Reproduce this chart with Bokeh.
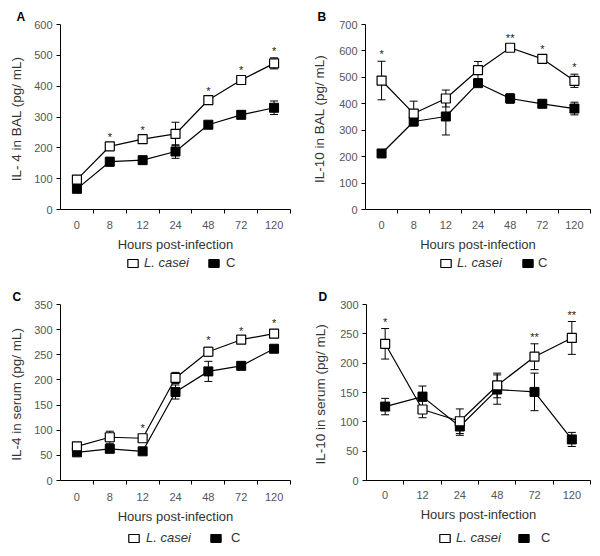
from bokeh.plotting import figure
from bokeh.models import (FixedTicker, Whisker, ColumnDataSource, Legend, LegendItem,
                          TeeHead, Range1d)
from bokeh.layouts import column, row
from bokeh.embed import file_html
from bokeh.resources import INLINE
from bokeh.core.properties import value

FONT = "Liberation Sans"

# ---- data -------------------------------------------------------------
hours_7 = ["0", "8", "12", "24", "48", "72", "120"]
hours_6 = ["0", "12", "24", "48", "72", "120"]
series_names = ["L. casei", "C"]

# A: IL-4 in BAL
a_lc = [97, 205, 228, 245, 355, 420, 474]
a_lc_err = [8, 6, 8, 38, 8, 10, 18]
a_c = [67, 155, 160, 188, 275, 307, 330]
a_c_err = [8, 14, 6, 22, 10, 6, 22]
a_stars = ["", "*", "*", "", "*", "*", "*"]

# B: IL-10 in BAL
b_lc = [488, 363, 420, 527, 612, 570, 487]
b_lc_err = [73, 47, 32, 33, 12, 10, 25]
b_c = [212, 333, 352, 478, 420, 400, 382]
b_c_err = [8, 8, 70, 10, 18, 6, 24]
b_stars = ["*", "", "", "", "**", "*", "*"]

# C: IL-4 in serum
c_lc = [68, 86, 84, 204, 256, 280, 292]
c_lc_err = [4, 12, 6, 11, 9, 4, 8]
c_c = [56, 63, 58, 176, 217, 228, 262]
c_c_err = [3, 4, 3, 14, 20, 4, 4]
c_stars = ["", "", "*", "", "*", "*", "*"]

# D: IL-10 in serum
d_lc = [233, 121, 101, 162, 211, 243]
d_lc_err = [26, 14, 21, 21, 22, 28]
d_c = [126, 143, 92, 155, 151, 70]
d_c_err = [14, 18, 15, 25, 32, 12]
d_stars = ["*", "", "", "", "**", "**"]

TICK_COLOR = "#555555"
LABEL_COLOR = "#333333"


def panel(cats, lc, lc_err, c, c_err, stars, ymax, ystep, ylabel, letter,
          height, borders, ylab_standoff, xlab_standoff, letter_offset):
    left, right, top, bottom = borders
    n = len(cats)
    xs = list(range(n))
    p = figure(width=300, height=height, x_range=Range1d(-0.5, n - 0.5),
               y_range=Range1d(0, ymax), output_backend="svg",
               toolbar_location=None, min_border_left=left,
               min_border_right=right, min_border_top=top,
               min_border_bottom=bottom)
    p.outline_line_color = None
    p.xgrid.visible = False
    p.ygrid.visible = False

    p.title.text = letter
    p.title.align = "left"
    p.title.offset = letter_offset
    p.title.standoff = 1
    p.title.text_font = FONT
    p.title.text_font_size = "12px"
    p.title.text_font_style = "bold"
    p.title.text_color = "black"

    # x axis: labels at centres, ticks at category boundaries
    xa = p.xaxis[0]
    xa.ticker = FixedTicker(ticks=xs, minor_ticks=[i + 0.5 for i in xs])
    xa.major_label_overrides = {i: lab for i, lab in enumerate(cats)}
    xa.major_tick_line_color = None
    xa.major_tick_out = 4
    xa.major_tick_in = 0
    xa.minor_tick_line_color = "black"
    xa.minor_tick_out = 4
    xa.minor_tick_in = 0
    xa.axis_line_color = "black"
    xa.major_label_text_font = FONT
    xa.major_label_text_font_size = "11px"
    xa.major_label_text_color = TICK_COLOR
    xa.major_label_standoff = xlab_standoff
    xa.axis_label = "Hours post-infection"
    xa.axis_label_text_font = FONT
    xa.axis_label_text_font_size = "13px"
    xa.axis_label_text_font_style = "normal"
    xa.axis_label_text_color = LABEL_COLOR
    xa.axis_label_standoff = 5

    ya = p.yaxis[0]
    ya.ticker = FixedTicker(ticks=list(range(0, ymax + 1, ystep)))
    ya.major_tick_out = 4
    ya.major_tick_in = 0
    ya.minor_tick_line_color = None
    ya.axis_line_color = "black"
    ya.major_label_text_font = FONT
    ya.major_label_text_font_size = "11px"
    ya.major_label_text_color = TICK_COLOR
    ya.major_label_standoff = 4
    ya.axis_label = ylabel
    ya.axis_label_text_font = FONT
    ya.axis_label_text_font_size = "13.5px"
    ya.axis_label_text_font_style = "normal"
    ya.axis_label_text_color = LABEL_COLOR
    ya.axis_label_standoff = ylab_standoff

    src_lc = ColumnDataSource(dict(x=xs, y=lc, upper=[v + e for v, e in zip(lc, lc_err)],
                                   lower=[v - e for v, e in zip(lc, lc_err)], star=stars))
    src_c = ColumnDataSource(dict(x=xs, y=c, upper=[v + e for v, e in zip(c, c_err)],
                                  lower=[v - e for v, e in zip(c, c_err)]))

    for src in (src_c, src_lc):
        w = Whisker(base="x", upper="upper", lower="lower", source=src,
                    line_color="black", line_width=1,
                    upper_head=TeeHead(size=8, line_color="black", line_width=1),
                    lower_head=TeeHead(size=8, line_color="black", line_width=1))
        p.add_layout(w)

    p.line("x", "y", source=src_c, line_color="black", line_width=1.2)
    p.line("x", "y", source=src_lc, line_color="black", line_width=1.2)
    p.scatter("x", "y", source=src_c, marker="square", size=9,
              fill_color="black", line_color="black", line_width=1)
    p.scatter("x", "y", source=src_lc, marker="square", size=9,
              fill_color="white", line_color="black", line_width=1.2)

    p.text("x", "upper", text="star", source=src_lc, text_align="center",
           text_baseline="middle", y_offset=-7, text_font=value(FONT),
           text_font_size="11px", text_color="#222222")
    return p


def legend_strip(height, lc, c, x1, x2, y, s1, s2):
    xs = list(range(len(lc)))
    f = figure(width=300, height=height, x_range=Range1d(-0.5, len(lc) - 0.5),
               y_range=Range1d(0, 1), output_backend="svg", toolbar_location=None,
               title=None, x_axis_type=None, y_axis_type=None, min_border=0)
    f.outline_line_color = None
    # legend proxies: the same series, hidden in the strip itself
    r_lc = f.rect(x=xs, y=lc, width=0.5, height=10, fill_color="white",
                  line_color="black", line_width=1.2, visible=False)
    r_c = f.rect(x=xs, y=c, width=0.5, height=10, fill_color="black",
                 line_color="black", line_width=1, visible=False)
    common = dict(orientation="horizontal", label_text_font=FONT,
                  label_text_font_size="13px", label_text_color=LABEL_COLOR,
                  glyph_width=13, glyph_height=10, label_height=10,
                  padding=0, margin=0, spacing=0, border_line_color=None,
                  background_fill_alpha=0, inactive_fill_alpha=0)
    leg1 = Legend(items=[LegendItem(label=series_names[0], renderers=[r_lc])],
                  location=(x1, y), label_text_font_style="italic",
                  label_standoff=s1, **common)
    leg2 = Legend(items=[LegendItem(label=series_names[1], renderers=[r_c])],
                  location=(x2, y), label_text_font_style="normal",
                  label_standoff=s2, **common)
    f.add_layout(leg1, "center")
    f.add_layout(leg2, "center")
    return f


TOP_H, TOP_LEG = 255, 23
BOT_H, BOT_LEG = 251, 25

pA = panel(hours_7, a_lc, a_lc_err, a_c, a_c_err, a_stars, 600, 100,
           "IL- 4 in  BAL (pg/ mL)", "A", TOP_H, (60, 10, 24, TOP_H - 209), 7, 7, -44)
pB = panel(hours_7, b_lc, b_lc_err, b_c, b_c_err, b_stars, 700, 100,
           "IL-10 in  BAL (pg/ mL)", "B", TOP_H, (65, 10, 24, TOP_H - 209), 9, 7, -48)
pC = panel(hours_7, c_lc, c_lc_err, c_c, c_c_err, c_stars, 350, 50,
           "IL-4 in  serum (pg/ mL)", "C", BOT_H, (60, 10, 24, BOT_H - 202), 7, 8, -48)
pD = panel(hours_6, d_lc, d_lc_err, d_c, d_c_err, d_stars, 300, 50,
           "IL-10 in  serum (pg/ mL)", "D", BOT_H, (66, 10, 26, BOT_H - 204), 9, 6, -48)

lA = legend_strip(TOP_LEG, a_lc, a_c, 126, 207, 8, 5, 6)
lB = legend_strip(TOP_LEG, b_lc, b_c, 139, 221, 8, 5, 4)
lC = legend_strip(BOT_LEG, c_lc, c_c, 127, 209, 9, 6, 9)
lD = legend_strip(BOT_LEG, d_lc, d_c, 138, 217, 9, 5, 11)

layout = column(row(pA, pB), row(lA, lB), row(pC, pD), row(lC, lD))
open("out.html", "w").write(file_html(layout, INLINE))
